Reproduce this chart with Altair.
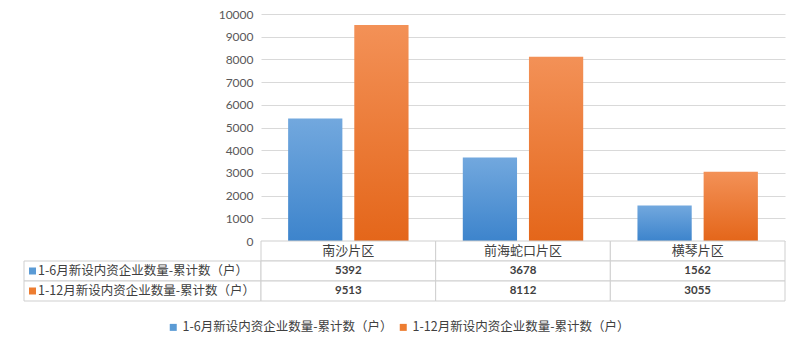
import altair as alt
import pandas as pd

categories = ["南沙片区", "前海蛇口片区", "横琴片区"]
series = ["1-6月新设内资企业数量-累计数（户）", "1-12月新设内资企业数量-累计数（户）"]
h1_values = [5392, 3678, 1562]
full_values = [9513, 8112, 3055]
y_ticks = [0, 1000, 2000, 3000, 4000, 5000, 6000, 7000, 8000, 9000, 10000]
table_rows = ["header", "r1", "r2"]
series_colors = ["#5b9bd5", "#ed7d31"]

CJK = "Noto Sans CJK SC"
NUM = "Lato"

rows = []
for c, a, b in zip(categories, h1_values, full_values):
    rows.append({"cat": c, "series": series[0], "value": a})
    rows.append({"cat": c, "series": series[1], "value": b})
df = pd.DataFrame(rows)

trows = []
for c, a, b in zip(categories, h1_values, full_values):
    trows.append({"cat": c, "row": "header", "text": c})
    trows.append({"cat": c, "row": "r1", "text": str(a)})
    trows.append({"cat": c, "row": "r2", "text": str(b)})
table_df = pd.DataFrame(trows)

label_df = pd.DataFrame({"row": ["r1", "r2"], "label": series, "col": series_colors})

blue_grad = alt.Gradient(
    gradient="linear",
    stops=[alt.GradientStop(color="#72a8de", offset=0), alt.GradientStop(color="#3d84cc", offset=1)],
    x1=0, x2=0, y1=0, y2=1,
)
orange_grad = alt.Gradient(
    gradient="linear",
    stops=[alt.GradientStop(color="#f39157", offset=0), alt.GradientStop(color="#e4661a", offset=1)],
    x1=0, x2=0, y1=0, y2=1,
)

x_enc = alt.X("cat:N", sort=categories,
              scale=alt.Scale(domain=categories, paddingInner=0, paddingOuter=0), axis=None)
xo_enc = alt.XOffset("series:N", sort=series,
                     scale=alt.Scale(domain=series, paddingInner=0.18, paddingOuter=0.41))
y_enc = alt.Y("value:Q", scale=alt.Scale(domain=[0, 10000], nice=False),
              axis=alt.Axis(values=y_ticks, format="d", title=None, domain=False, ticks=False,
                            labelPadding=8, gridColor="#d9d9d9", labelFont=NUM,
                            labelFontSize=12, labelColor="#595959"))

base = alt.Chart(df)
blue = base.transform_filter(alt.datum.series == series[0]).mark_bar(color=blue_grad).encode(
    x=x_enc, xOffset=xo_enc, y=y_enc)
orange = base.transform_filter(alt.datum.series == series[1]).mark_bar(color=orange_grad).encode(
    x=x_enc, xOffset=xo_enc, y=y_enc)
legend_layer = base.mark_square(opacity=0, size=1).encode(
    x=x_enc, xOffset=xo_enc, y=y_enc,
    color=alt.Color("series:N", sort=series,
                    scale=alt.Scale(domain=series, range=series_colors),
                    legend=alt.Legend(orient="none", legendX=-94, legendY=307, direction="horizontal",
                                      title=None, symbolType="square", symbolSize=49,
                                      symbolOpacity=1, symbolStrokeWidth=0, labelOffset=3,
                                      columnPadding=4, padding=0, labelFont=CJK,
                                      labelFontSize=12.5, labelColor="#404040", labelLimit=0)))
bar_chart = alt.layer(blue, orange, legend_layer).properties(width=524, height=227)

tbl_x = alt.X("cat:N", sort=categories,
              scale=alt.Scale(domain=categories, paddingInner=0, paddingOuter=0), axis=None)
tbl_y = alt.Y("row:N", sort=table_rows,
              scale=alt.Scale(domain=table_rows, paddingInner=0, paddingOuter=0), axis=None)
tbase = alt.Chart(table_df)
cells = tbase.mark_rect(fill="white", stroke="#cfcfcf", strokeWidth=1).encode(x=tbl_x, y=tbl_y)
header_text = tbase.transform_filter(alt.datum.row == "header").mark_text(
    font=CJK, fontSize=13, color="#404040").encode(x=tbl_x, y=tbl_y, text="text:N")
value_text = tbase.transform_filter(alt.datum.row != "header").mark_text(
    font=NUM, fontSize=11.5, fontWeight="bold", color="#404040").encode(x=tbl_x, y=tbl_y, text="text:N")
table_chart = alt.layer(cells, header_text, value_text).properties(width=524, height=60)

lab_y = alt.Y("row:N", scale=alt.Scale(domain=table_rows, paddingInner=0, paddingOuter=0), axis=None)
lbase = alt.Chart(label_df)
lab_cells = lbase.mark_rect(fill="white", stroke="#cfcfcf", strokeWidth=1).encode(
    y=lab_y, x=alt.value(0), x2=alt.value(237))
lab_sq = lbase.mark_square(size=49, opacity=1).encode(
    y=lab_y, x=alt.value(8.5), color=alt.Color("col:N", scale=None))
lab_text = lbase.mark_text(align="left", font=CJK, fontSize=12.5, color="#404040").encode(
    y=lab_y, x=alt.value(14), text="label:N")
labels_chart = alt.layer(lab_cells, lab_sq, lab_text).properties(width=237, height=60)

empty = alt.Chart(pd.DataFrame({"z": [0]})).mark_point(opacity=0).properties(width=237, height=227)

chart = alt.concat(empty, bar_chart, labels_chart, table_chart, columns=2, spacing=0, bounds="flush").resolve_scale(
    color="independent").resolve_legend(color="independent").configure_view(strokeWidth=0).properties(
    padding={"left": 23, "top": 8, "right": 5, "bottom": 5}, background="white")

chart.save("out.html", embed_options={"renderer": "svg", "actions": False})
